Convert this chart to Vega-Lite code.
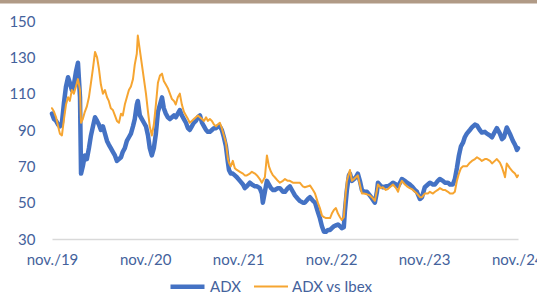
{
  "$schema": "https://vega.github.io/schema/vega-lite/v6.json",
  "width": 466,
  "height": 218,
  "autosize": "none",
  "padding": {"left": 52, "top": 21, "right": 19, "bottom": 55},
  "background": "white",
  "config": {"view": {"stroke": null}, "font": "Lato"},
  "layer": [
    {
      "data": {"values": [
        {"d":"2019-11-01","ADX":99,"ADX vs Ibex":102},
        {"d":"2019-11-09","ADX":96,"ADX vs Ibex":100},
        {"d":"2019-11-17","ADX":95,"ADX vs Ibex":97},
        {"d":"2019-11-25","ADX":93,"ADX vs Ibex":92},
        {"d":"2019-12-02","ADX":92,"ADX vs Ibex":88},
        {"d":"2019-12-10","ADX":94,"ADX vs Ibex":87},
        {"d":"2019-12-18","ADX":105,"ADX vs Ibex":96},
        {"d":"2019-12-26","ADX":114,"ADX vs Ibex":104},
        {"d":"2020-01-03","ADX":119,"ADX vs Ibex":108},
        {"d":"2020-01-10","ADX":116,"ADX vs Ibex":106},
        {"d":"2020-01-18","ADX":112,"ADX vs Ibex":112},
        {"d":"2020-01-26","ADX":115,"ADX vs Ibex":110},
        {"d":"2020-02-03","ADX":122,"ADX vs Ibex":114},
        {"d":"2020-02-11","ADX":127,"ADX vs Ibex":118},
        {"d":"2020-02-19","ADX":108,"ADX vs Ibex":112},
        {"d":"2020-02-23","ADX":66,"ADX vs Ibex":94},
        {"d":"2020-03-01","ADX":70,"ADX vs Ibex":96},
        {"d":"2020-03-09","ADX":76,"ADX vs Ibex":100},
        {"d":"2020-03-17","ADX":74,"ADX vs Ibex":103},
        {"d":"2020-03-25","ADX":80,"ADX vs Ibex":108},
        {"d":"2020-04-02","ADX":87,"ADX vs Ibex":116},
        {"d":"2020-04-10","ADX":92,"ADX vs Ibex":124},
        {"d":"2020-04-18","ADX":97,"ADX vs Ibex":133},
        {"d":"2020-04-26","ADX":95,"ADX vs Ibex":130},
        {"d":"2020-05-03","ADX":93,"ADX vs Ibex":124},
        {"d":"2020-05-11","ADX":90,"ADX vs Ibex":115},
        {"d":"2020-05-19","ADX":92,"ADX vs Ibex":110},
        {"d":"2020-05-27","ADX":88,"ADX vs Ibex":112},
        {"d":"2020-06-04","ADX":84,"ADX vs Ibex":108},
        {"d":"2020-06-11","ADX":82,"ADX vs Ibex":106},
        {"d":"2020-06-19","ADX":80,"ADX vs Ibex":102},
        {"d":"2020-06-27","ADX":78,"ADX vs Ibex":101},
        {"d":"2020-07-05","ADX":76,"ADX vs Ibex":98},
        {"d":"2020-07-13","ADX":73,"ADX vs Ibex":95},
        {"d":"2020-07-21","ADX":74,"ADX vs Ibex":94},
        {"d":"2020-07-29","ADX":75,"ADX vs Ibex":99},
        {"d":"2020-08-05","ADX":78,"ADX vs Ibex":98},
        {"d":"2020-08-13","ADX":80,"ADX vs Ibex":104},
        {"d":"2020-08-21","ADX":84,"ADX vs Ibex":108},
        {"d":"2020-08-29","ADX":86,"ADX vs Ibex":112},
        {"d":"2020-09-06","ADX":88,"ADX vs Ibex":114},
        {"d":"2020-09-14","ADX":92,"ADX vs Ibex":118},
        {"d":"2020-09-21","ADX":96,"ADX vs Ibex":126},
        {"d":"2020-09-29","ADX":104,"ADX vs Ibex":132},
        {"d":"2020-10-03","ADX":106,"ADX vs Ibex":142},
        {"d":"2020-10-11","ADX":98,"ADX vs Ibex":134},
        {"d":"2020-10-19","ADX":96,"ADX vs Ibex":126},
        {"d":"2020-10-27","ADX":94,"ADX vs Ibex":118},
        {"d":"2020-11-04","ADX":92,"ADX vs Ibex":110},
        {"d":"2020-11-12","ADX":87,"ADX vs Ibex":100},
        {"d":"2020-11-19","ADX":80,"ADX vs Ibex":92},
        {"d":"2020-11-27","ADX":76,"ADX vs Ibex":87},
        {"d":"2020-12-05","ADX":80,"ADX vs Ibex":93},
        {"d":"2020-12-13","ADX":88,"ADX vs Ibex":104},
        {"d":"2020-12-21","ADX":100,"ADX vs Ibex":116},
        {"d":"2020-12-29","ADX":104,"ADX vs Ibex":120},
        {"d":"2021-01-06","ADX":108,"ADX vs Ibex":121},
        {"d":"2021-01-13","ADX":102,"ADX vs Ibex":117},
        {"d":"2021-01-21","ADX":99,"ADX vs Ibex":115},
        {"d":"2021-01-29","ADX":97,"ADX vs Ibex":113},
        {"d":"2021-02-06","ADX":96,"ADX vs Ibex":110},
        {"d":"2021-02-14","ADX":97,"ADX vs Ibex":107},
        {"d":"2021-02-22","ADX":98,"ADX vs Ibex":106},
        {"d":"2021-03-01","ADX":97,"ADX vs Ibex":104},
        {"d":"2021-03-09","ADX":99,"ADX vs Ibex":108},
        {"d":"2021-03-17","ADX":101,"ADX vs Ibex":110},
        {"d":"2021-03-25","ADX":98,"ADX vs Ibex":104},
        {"d":"2021-04-02","ADX":96,"ADX vs Ibex":100},
        {"d":"2021-04-10","ADX":94,"ADX vs Ibex":98},
        {"d":"2021-04-18","ADX":91,"ADX vs Ibex":96},
        {"d":"2021-04-25","ADX":90,"ADX vs Ibex":94},
        {"d":"2021-05-03","ADX":92,"ADX vs Ibex":95},
        {"d":"2021-05-11","ADX":94,"ADX vs Ibex":96},
        {"d":"2021-05-19","ADX":95,"ADX vs Ibex":97},
        {"d":"2021-05-27","ADX":97,"ADX vs Ibex":98},
        {"d":"2021-06-04","ADX":98,"ADX vs Ibex":97},
        {"d":"2021-06-12","ADX":94,"ADX vs Ibex":96},
        {"d":"2021-06-20","ADX":92,"ADX vs Ibex":95},
        {"d":"2021-06-28","ADX":90,"ADX vs Ibex":97},
        {"d":"2021-07-05","ADX":89,"ADX vs Ibex":95},
        {"d":"2021-07-13","ADX":89,"ADX vs Ibex":96},
        {"d":"2021-07-21","ADX":90,"ADX vs Ibex":95},
        {"d":"2021-07-29","ADX":91,"ADX vs Ibex":93},
        {"d":"2021-08-06","ADX":91,"ADX vs Ibex":92},
        {"d":"2021-08-13","ADX":92,"ADX vs Ibex":93},
        {"d":"2021-08-21","ADX":92,"ADX vs Ibex":94},
        {"d":"2021-08-29","ADX":90,"ADX vs Ibex":91},
        {"d":"2021-09-06","ADX":86,"ADX vs Ibex":87},
        {"d":"2021-09-14","ADX":81,"ADX vs Ibex":83},
        {"d":"2021-09-22","ADX":72,"ADX vs Ibex":74},
        {"d":"2021-09-26","ADX":68,"ADX vs Ibex":72},
        {"d":"2021-10-03","ADX":66,"ADX vs Ibex":70},
        {"d":"2021-10-11","ADX":66,"ADX vs Ibex":73},
        {"d":"2021-10-19","ADX":65,"ADX vs Ibex":69},
        {"d":"2021-10-27","ADX":64,"ADX vs Ibex":68},
        {"d":"2021-11-08","ADX":62,"ADX vs Ibex":67},
        {"d":"2021-11-20","ADX":60,"ADX vs Ibex":66},
        {"d":"2021-11-27","ADX":58,"ADX vs Ibex":65},
        {"d":"2021-12-05","ADX":59,"ADX vs Ibex":65},
        {"d":"2021-12-17","ADX":61,"ADX vs Ibex":66},
        {"d":"2021-12-25","ADX":60,"ADX vs Ibex":67},
        {"d":"2022-01-06","ADX":59,"ADX vs Ibex":66},
        {"d":"2022-01-14","ADX":59,"ADX vs Ibex":65},
        {"d":"2022-01-25","ADX":58,"ADX vs Ibex":63},
        {"d":"2022-02-02","ADX":55,"ADX vs Ibex":61},
        {"d":"2022-02-06","ADX":50,"ADX vs Ibex":62},
        {"d":"2022-02-14","ADX":56,"ADX vs Ibex":64},
        {"d":"2022-02-22","ADX":62,"ADX vs Ibex":76},
        {"d":"2022-03-02","ADX":60,"ADX vs Ibex":70},
        {"d":"2022-03-10","ADX":58,"ADX vs Ibex":67},
        {"d":"2022-03-18","ADX":57,"ADX vs Ibex":65},
        {"d":"2022-03-25","ADX":57,"ADX vs Ibex":64},
        {"d":"2022-04-06","ADX":58,"ADX vs Ibex":62},
        {"d":"2022-04-14","ADX":58,"ADX vs Ibex":61},
        {"d":"2022-04-26","ADX":56,"ADX vs Ibex":62},
        {"d":"2022-05-04","ADX":56,"ADX vs Ibex":63},
        {"d":"2022-05-15","ADX":58,"ADX vs Ibex":62},
        {"d":"2022-05-23","ADX":59,"ADX vs Ibex":62},
        {"d":"2022-06-04","ADX":56,"ADX vs Ibex":61},
        {"d":"2022-06-12","ADX":54,"ADX vs Ibex":61},
        {"d":"2022-06-24","ADX":52,"ADX vs Ibex":61},
        {"d":"2022-07-01","ADX":51,"ADX vs Ibex":61},
        {"d":"2022-07-13","ADX":50,"ADX vs Ibex":59},
        {"d":"2022-07-21","ADX":50,"ADX vs Ibex":58.5},
        {"d":"2022-08-02","ADX":52,"ADX vs Ibex":59},
        {"d":"2022-08-10","ADX":53,"ADX vs Ibex":59.5},
        {"d":"2022-08-22","ADX":51,"ADX vs Ibex":57},
        {"d":"2022-08-30","ADX":50,"ADX vs Ibex":55},
        {"d":"2022-09-10","ADX":45,"ADX vs Ibex":50},
        {"d":"2022-09-18","ADX":41.5,"ADX vs Ibex":47},
        {"d":"2022-09-26","ADX":37,"ADX vs Ibex":43},
        {"d":"2022-10-04","ADX":34,"ADX vs Ibex":42},
        {"d":"2022-10-12","ADX":34,"ADX vs Ibex":41.5},
        {"d":"2022-10-20","ADX":35,"ADX vs Ibex":41.5},
        {"d":"2022-10-28","ADX":35,"ADX vs Ibex":41.5},
        {"d":"2022-11-04","ADX":36,"ADX vs Ibex":44},
        {"d":"2022-11-12","ADX":37,"ADX vs Ibex":46},
        {"d":"2022-11-20","ADX":37.5,"ADX vs Ibex":47},
        {"d":"2022-11-28","ADX":38,"ADX vs Ibex":44},
        {"d":"2022-12-06","ADX":37,"ADX vs Ibex":42},
        {"d":"2022-12-13","ADX":36,"ADX vs Ibex":40.5},
        {"d":"2022-12-21","ADX":36.5,"ADX vs Ibex":42},
        {"d":"2022-12-25","ADX":45,"ADX vs Ibex":50},
        {"d":"2023-01-02","ADX":57,"ADX vs Ibex":62},
        {"d":"2023-01-10","ADX":65,"ADX vs Ibex":66},
        {"d":"2023-01-14","ADX":66,"ADX vs Ibex":68},
        {"d":"2023-01-22","ADX":62,"ADX vs Ibex":62},
        {"d":"2023-01-30","ADX":63,"ADX vs Ibex":63},
        {"d":"2023-02-06","ADX":64,"ADX vs Ibex":64},
        {"d":"2023-02-14","ADX":66,"ADX vs Ibex":65},
        {"d":"2023-02-22","ADX":62,"ADX vs Ibex":60},
        {"d":"2023-03-02","ADX":57,"ADX vs Ibex":55},
        {"d":"2023-03-10","ADX":56,"ADX vs Ibex":55},
        {"d":"2023-03-22","ADX":56,"ADX vs Ibex":54.6},
        {"d":"2023-04-02","ADX":54,"ADX vs Ibex":54},
        {"d":"2023-04-10","ADX":52.5,"ADX vs Ibex":53},
        {"d":"2023-04-22","ADX":50,"ADX vs Ibex":51},
        {"d":"2023-04-30","ADX":56,"ADX vs Ibex":57},
        {"d":"2023-05-04","ADX":61,"ADX vs Ibex":60},
        {"d":"2023-05-16","ADX":59,"ADX vs Ibex":58},
        {"d":"2023-05-23","ADX":58.5,"ADX vs Ibex":58.5},
        {"d":"2023-06-04","ADX":59,"ADX vs Ibex":57},
        {"d":"2023-06-12","ADX":59,"ADX vs Ibex":57.5},
        {"d":"2023-06-24","ADX":60,"ADX vs Ibex":59},
        {"d":"2023-07-02","ADX":61,"ADX vs Ibex":60},
        {"d":"2023-07-14","ADX":60,"ADX vs Ibex":58},
        {"d":"2023-07-22","ADX":59,"ADX vs Ibex":56},
        {"d":"2023-07-30","ADX":61,"ADX vs Ibex":60},
        {"d":"2023-08-06","ADX":63,"ADX vs Ibex":62},
        {"d":"2023-08-18","ADX":62,"ADX vs Ibex":60},
        {"d":"2023-08-26","ADX":61,"ADX vs Ibex":59},
        {"d":"2023-09-06","ADX":60,"ADX vs Ibex":58},
        {"d":"2023-09-14","ADX":59,"ADX vs Ibex":57.5},
        {"d":"2023-09-26","ADX":57,"ADX vs Ibex":56},
        {"d":"2023-10-04","ADX":56,"ADX vs Ibex":55},
        {"d":"2023-10-16","ADX":52,"ADX vs Ibex":53},
        {"d":"2023-10-24","ADX":53,"ADX vs Ibex":53},
        {"d":"2023-11-04","ADX":58.5,"ADX vs Ibex":55},
        {"d":"2023-11-16","ADX":60,"ADX vs Ibex":55},
        {"d":"2023-11-24","ADX":61,"ADX vs Ibex":56},
        {"d":"2023-12-06","ADX":60,"ADX vs Ibex":55},
        {"d":"2023-12-14","ADX":60,"ADX vs Ibex":56},
        {"d":"2023-12-25","ADX":62,"ADX vs Ibex":57},
        {"d":"2024-01-02","ADX":63,"ADX vs Ibex":58},
        {"d":"2024-01-14","ADX":62,"ADX vs Ibex":57},
        {"d":"2024-01-22","ADX":61,"ADX vs Ibex":57},
        {"d":"2024-02-03","ADX":61,"ADX vs Ibex":56},
        {"d":"2024-02-11","ADX":60,"ADX vs Ibex":55},
        {"d":"2024-02-22","ADX":60,"ADX vs Ibex":55},
        {"d":"2024-03-01","ADX":63,"ADX vs Ibex":56},
        {"d":"2024-03-09","ADX":69,"ADX vs Ibex":62},
        {"d":"2024-03-17","ADX":76,"ADX vs Ibex":66},
        {"d":"2024-03-25","ADX":81,"ADX vs Ibex":69},
        {"d":"2024-04-02","ADX":83,"ADX vs Ibex":70},
        {"d":"2024-04-09","ADX":86,"ADX vs Ibex":70},
        {"d":"2024-04-17","ADX":88,"ADX vs Ibex":70},
        {"d":"2024-04-29","ADX":90,"ADX vs Ibex":72},
        {"d":"2024-05-07","ADX":91.4,"ADX vs Ibex":73},
        {"d":"2024-05-19","ADX":93,"ADX vs Ibex":74},
        {"d":"2024-05-27","ADX":92.5,"ADX vs Ibex":75},
        {"d":"2024-06-07","ADX":90,"ADX vs Ibex":74},
        {"d":"2024-06-15","ADX":88.6,"ADX vs Ibex":73},
        {"d":"2024-06-27","ADX":89,"ADX vs Ibex":74},
        {"d":"2024-07-05","ADX":88,"ADX vs Ibex":74},
        {"d":"2024-07-17","ADX":87,"ADX vs Ibex":73},
        {"d":"2024-07-25","ADX":86,"ADX vs Ibex":71.6},
        {"d":"2024-08-05","ADX":89,"ADX vs Ibex":73},
        {"d":"2024-08-13","ADX":91,"ADX vs Ibex":74},
        {"d":"2024-08-25","ADX":88,"ADX vs Ibex":72},
        {"d":"2024-09-02","ADX":85,"ADX vs Ibex":69.5},
        {"d":"2024-09-10","ADX":86,"ADX vs Ibex":66},
        {"d":"2024-09-14","ADX":88,"ADX vs Ibex":64},
        {"d":"2024-09-21","ADX":91.4,"ADX vs Ibex":71.6},
        {"d":"2024-10-03","ADX":88,"ADX vs Ibex":69},
        {"d":"2024-10-15","ADX":84,"ADX vs Ibex":67},
        {"d":"2024-10-23","ADX":82,"ADX vs Ibex":66},
        {"d":"2024-10-31","ADX":79,"ADX vs Ibex":64},
        {"d":"2024-11-04","ADX":80,"ADX vs Ibex":65}
      ]},
      "transform": [{"fold": ["ADX", "ADX vs Ibex"], "as": ["series", "value"]}],
      "mark": {"type": "line", "strokeJoin": "round", "strokeCap": "round"},
      "encoding": {
        "x": {
          "field": "d", "type": "temporal",
          "scale": {"domain": [{"year": 2019, "month": 11, "date": 1}, {"year": 2024, "month": 11, "date": 4}]},
          "axis": {
            "title": null,
            "values": [{"year": 2019, "month": 11, "date": 1}, {"year": 2020, "month": 11, "date": 1}, {"year": 2021, "month": 11, "date": 1}, {"year": 2022, "month": 11, "date": 1}, {"year": 2023, "month": 11, "date": 1}, {"year": 2024, "month": 11, "date": 1}],
            "labelExpr": "'nov./' + timeFormat(datum.value, '%y')",
            "grid": false, "ticks": false,
            "domain": true, "domainColor": "#D9D9D9", "domainWidth": 1.5,
            "labelColor": "#44629C", "labelFont": "Lato", "labelFontSize": 15,
            "labelPadding": 13, "labelFlush": false, "labelOverlap": false
          }
        },
        "y": {
          "field": "value", "type": "quantitative",
          "scale": {"domain": [30, 150], "nice": false, "zero": false},
          "axis": {
            "title": null, "values": [30, 50, 70, 90, 110, 130, 150],
            "grid": false, "ticks": false, "domain": false,
            "labelColor": "#44629C", "labelFont": "Lato", "labelFontSize": 15,
            "labelPadding": 17, "labelOverlap": false, "labelFlush": false
          }
        },
        "color": {
          "field": "series", "type": "nominal",
          "scale": {"domain": ["ADX", "ADX vs Ibex"], "range": ["#4472C4", "#F6A531"]},
          "legend": {
            "title": null, "orient": "none", "legendX": 116, "legendY": 246,
            "direction": "horizontal", "symbolType": "stroke", "symbolSize": 1156,
            "labelFont": "Lato", "labelFontSize": 15, "labelColor": "#44629C",
            "labelOffset": 3, "columnPadding": 9
          }
        },
        "strokeWidth": {
          "field": "series", "type": "nominal",
          "scale": {"domain": ["ADX", "ADX vs Ibex"], "range": [4.5, 2]},
          "legend": {
            "title": null, "orient": "none", "legendX": 116, "legendY": 246,
            "direction": "horizontal", "symbolType": "stroke", "symbolSize": 1156,
            "labelFont": "Lato", "labelFontSize": 15, "labelColor": "#44629C",
            "labelOffset": 3, "columnPadding": 9
          }
        }
      }
    },
    {
      "data": {"values": [{}]},
      "mark": {"type": "rect", "color": "#B09A86"},
      "encoding": {
        "x": {
          "datum": {"year": 2019, "month": 3, "date": 1}, "type": "temporal",
          "axis": {
            "title": null,
            "values": [{"year": 2019, "month": 11, "date": 1}, {"year": 2020, "month": 11, "date": 1}, {"year": 2021, "month": 11, "date": 1}, {"year": 2022, "month": 11, "date": 1}, {"year": 2023, "month": 11, "date": 1}, {"year": 2024, "month": 11, "date": 1}],
            "labelExpr": "'nov./' + timeFormat(datum.value, '%y')",
            "grid": false, "ticks": false,
            "domain": true, "domainColor": "#D9D9D9", "domainWidth": 1.5,
            "labelColor": "#44629C", "labelFont": "Lato", "labelFontSize": 15,
            "labelPadding": 13, "labelFlush": false, "labelOverlap": false
          }
        },
        "x2": {"datum": {"year": 2025, "month": 3, "date": 1}},
        "y": {
          "datum": 170, "type": "quantitative",
          "axis": {
            "title": null, "values": [30, 50, 70, 90, 110, 130, 150],
            "grid": false, "ticks": false, "domain": false,
            "labelColor": "#44629C", "labelFont": "Lato", "labelFontSize": 15,
            "labelPadding": 17, "labelOverlap": false, "labelFlush": false
          }
        },
        "y2": {"datum": 159.7}
      }
    }
  ]
}
